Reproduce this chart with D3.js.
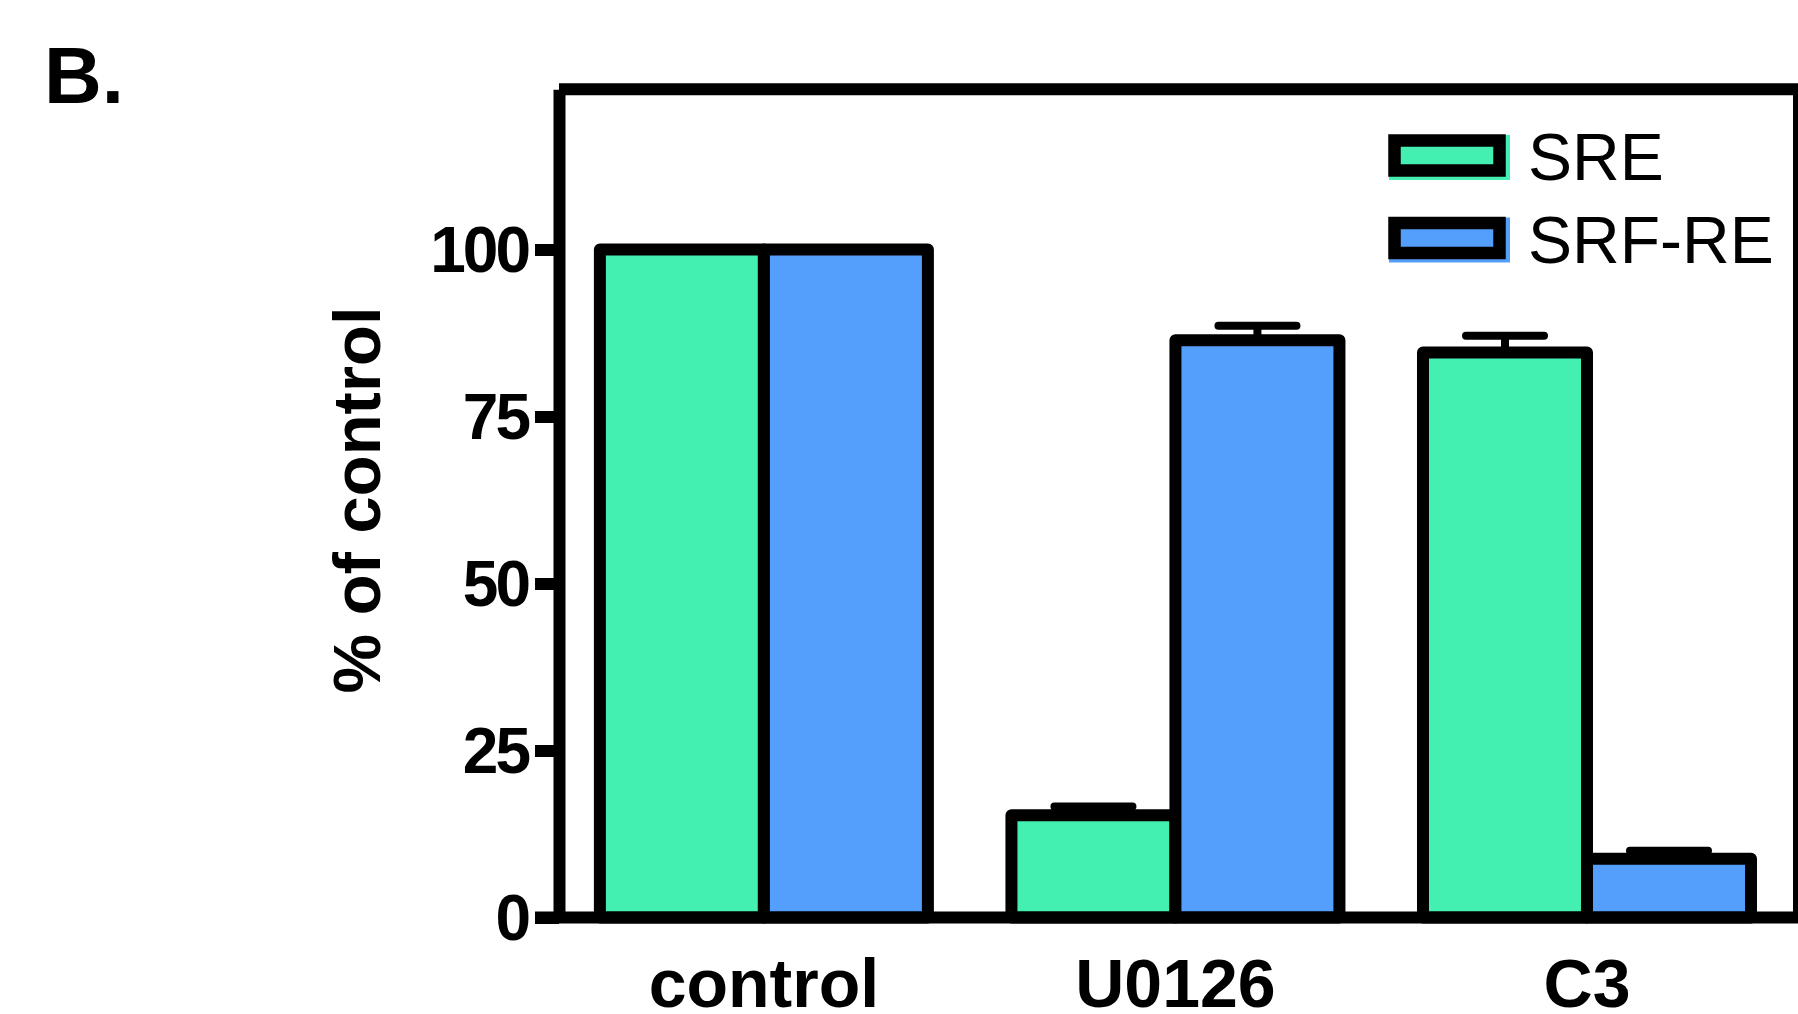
<!DOCTYPE html>
<html>
<head>
<meta charset="utf-8">
<script src="https://cdn.jsdelivr.net/npm/d3@7"></script>
<style>
    body { margin: 0; background: #fff; }
    text { font-family: "Liberation Sans", Arial, sans-serif; fill: #000; }
</style>
</head>
<body>
<div id="chart-container"></div>
<script>
// data
const groups = ["control", "U0126", "C3"];
const series = ["SRE", "SRF-RE"];
const sreValues = [100, 15.3, 84.6];
const srfValues = [100, 86.4, 8.8];
const sreErrors = [0, 1.3, 2.5];
const srfErrors = [0, 2.2, 1.2];
const yTicks = [0, 25, 50, 75, 100];
const colors = ["#43F0B1", "#559FFC"];

const w = 1798;
const h = 1014;
const plotLeft = 559, plotRight = 1799, plotBottom = 917.5, plotTop = 89.2;
const lw = 12;

const svg = d3.select('#chart-container')
    .append('svg')
    .attr('width', w)
    .attr('height', h);

const yScale = d3.scaleLinear()
    .domain([0, 124])
    .range([plotBottom, plotTop]);

const xScale = d3.scaleBand()
    .domain(groups)
    .range([plotLeft, plotRight])
    .paddingInner(0.203)
    .paddingOuter(0.108)
    .align(0.46);

const xInner = d3.scaleBand()
    .domain(series)
    .range([0, xScale.bandwidth()]);

const rows = groups.flatMap((g, i) => [
    { group: g, s: series[0], v: sreValues[i], e: sreErrors[i], c: colors[0] },
    { group: g, s: series[1], v: srfValues[i], e: srfErrors[i], c: colors[1] }
]);

// bars
svg.selectAll('rect.bar')
    .data(rows)
    .enter()
    .append('rect')
    .attr('class', 'bar')
    .attr('x', d => xScale(d.group) + xInner(d.s))
    .attr('y', d => yScale(d.v))
    .attr('width', xInner.bandwidth())
    .attr('height', d => yScale(0) - yScale(d.v))
    .attr('fill', d => d.c)
    .attr('stroke', '#000')
    .attr('stroke-width', lw)
    .attr('stroke-linejoin', 'round');

// error bars (upper half only)
const errs = rows.filter(d => d.e > 0);
const cx = d => xScale(d.group) + xInner(d.s) + xInner.bandwidth() / 2;

svg.selectAll('line.stem')
    .data(errs)
    .enter()
    .append('line')
    .attr('x1', cx)
    .attr('x2', cx)
    .attr('y1', d => yScale(d.v))
    .attr('y2', d => yScale(d.v + d.e))
    .attr('stroke', '#000')
    .attr('stroke-width', 8);

svg.selectAll('line.cap')
    .data(errs)
    .enter()
    .append('line')
    .attr('x1', d => cx(d) - 39)
    .attr('x2', d => cx(d) + 39)
    .attr('y1', d => yScale(d.v + d.e))
    .attr('y2', d => yScale(d.v + d.e))
    .attr('stroke', '#000')
    .attr('stroke-width', 8)
    .attr('stroke-linecap', 'round');

// y axis
const yAxis = d3.axisLeft(yScale)
    .tickValues(yTicks)
    .tickSize(24)
    .tickSizeOuter(0)
    .tickPadding(7);

const gy = svg.append("g")
    .attr('id', 'y-axis')
    .attr("transform", "translate(" + plotLeft + ",0)")
    .call(yAxis);
gy.selectAll('path, line').attr('stroke', '#000').attr('stroke-width', lw);
gy.selectAll('text')
    .attr('dy', '0.35em')
    .style('font-size', '64px')
    .style('font-weight', 'bold')
    .style('letter-spacing', '-3px');

// x axis
const xAxis = d3.axisBottom(xScale).tickSize(0).tickPadding(0);
const gx = svg.append("g")
    .attr('id', 'x-axis')
    .attr("transform", "translate(0," + plotBottom + ")")
    .call(xAxis);
gx.select('.domain').remove();
gx.selectAll('text')
    .attr('y', 89)
    .attr('dy', 0)
    .style('font-size', '68px')
    .style('font-weight', 'bold');

svg.append('line')
    .attr('x1', 535).attr('x2', w + 10)
    .attr('y1', plotBottom).attr('y2', plotBottom)
    .attr('stroke', '#000').attr('stroke-width', lw);

// frame
svg.append('line')
    .attr('x1', plotLeft).attr('x2', w + 10)
    .attr('y1', plotTop).attr('y2', plotTop)
    .attr('stroke', '#000').attr('stroke-width', lw);
svg.append('line')
    .attr('x1', plotRight).attr('x2', plotRight)
    .attr('y1', plotTop).attr('y2', plotBottom)
    .attr('stroke', '#000').attr('stroke-width', lw);

// legend
const legend = svg.selectAll('g.legend')
    .data(series)
    .enter()
    .append('g')
    .attr('transform', (d, i) => "translate(0," + (i * 82.5) + ")");

legend.append('rect')
    .attr('x', 1389).attr('y', 135)
    .attr('width', 121).attr('height', 45)
    .attr('fill', (d, i) => colors[i]);
legend.append('rect')
    .attr('x', 1394.5).attr('y', 140.5)
    .attr('width', 105).attr('height', 30)
    .attr('fill', (d, i) => colors[i])
    .attr('stroke', '#000')
    .attr('stroke-width', 12.5);
legend.append('text')
    .attr('x', 1528).attr('y', 180)
    .style('font-size', '66px')
    .text(d => d);

// titles
svg.append('text')
    .attr('transform', 'translate(380,500) rotate(-90)')
    .attr('text-anchor', 'middle')
    .style('font-size', '67px')
    .style('font-weight', 'bold')
    .text('% of control');

svg.append('text')
    .attr('x', 44).attr('y', 103)
    .style('font-size', '80px')
    .style('font-weight', 'bold')
    .text('B.');
</script>
</body>
</html>
